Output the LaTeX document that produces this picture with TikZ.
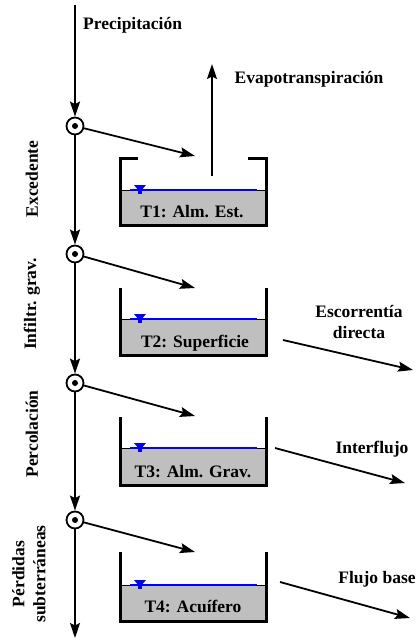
\documentclass[tikz,border=0pt]{standalone}
\usepackage{fontspec}
\setmainfont{Liberation Serif}
\usetikzlibrary{arrows.meta}

\begin{document}
\begin{tikzpicture}[x=1pt,y=-1pt,
  lbl/.style={font=\fontsize{17.5}{21}\selectfont\bfseries, inner sep=0pt, align=center},
  flow/.style={line width=1.8pt, -{Stealth[length=15pt,width=10pt,inset=2.5pt]}},
  junc/.style={circle, draw, line width=1.8pt, minimum size=17pt, inner sep=0pt, fill=white},
  wall/.style={line width=3pt, line join=miter},
  water/.style={blue, line width=2.6pt},
  soil/.style={fill=black!25},
]
\useasboundingbox (0,0) rectangle (417,640);

% main vertical flow line with its junctions
\coordinate (top) at (75,5);
\coordinate (bot) at (75,638);
\node[junc] (j1) at (75,126) {};
\node[junc] (j2) at (75,254) {};
\node[junc] (j3) at (75,383) {};
\node[junc] (j4) at (75,520) {};
\foreach \j in {j1,j2,j3,j4} \fill (\j) circle (3pt);

\draw[flow] (top) -- (j1.north);
\draw[flow] (j1.south) -- (j2.north);
\draw[flow] (j2.south) -- (j3.north);
\draw[flow] (j3.south) -- (j4.north);
\draw[flow] (j4.south) -- (bot);

% inflows into each tank
\coordinate (in1) at (195,156);
\coordinate (in2) at (195,288);
\coordinate (in3) at (195,416);
\coordinate (in4) at (195,552);
\draw[flow] (j1) -- (in1);
\draw[flow] (j2) -- (in2);
\draw[flow] (j3) -- (in3);
\draw[flow] (j4) -- (in4);

% tanks: top, water level, bottom
\foreach \t/\w/\b in {157/190/225, 288/319/355, 417/448/485, 552/585/621} {
  \fill[soil] (120,\w) rectangle (266,\b);
  \draw[line width=1pt] (120,\w) -- (266,\w);
  \draw[water] (130,\w) -- (257,\w);
  \fill[blue] (134,\w-5) -- (146,\w-5) -- (140,\w+2) -- cycle;
  \fill[blue] (138,\w) rectangle (142,\w+4);
  \draw[wall] (120,\t) -- (120,\b) -- (266,\b) -- (266,\t);
}
% lips of the first tank
\draw[wall] (120,158) -- (138,158);
\draw[wall] (248,158) -- (266,158);

\node[lbl, anchor=base] (t1) at (192,217) {T1: Alm. Est.};
\node[lbl, anchor=base] (t2) at (195,347) {T2: Superficie};
\node[lbl, anchor=base] (t3) at (193,477) {T3: Alm. Grav.};
\node[lbl, anchor=base] (t4) at (193,612) {T4: Acuífero};

% evapotranspiration
\coordinate (ev0) at (212,176);
\coordinate (ev1) at (212,64);
\draw[flow] (ev0) -- (ev1);

% outflows
\coordinate (o2a) at (283,340);
\coordinate (o2b) at (413,370);
\coordinate (o3a) at (275,448);
\coordinate (o3b) at (405,483);
\coordinate (o4a) at (280,582);
\coordinate (o4b) at (410,618);
\draw[flow] (o2a) -- (o2b);
\draw[flow] (o3a) -- (o3b);
\draw[flow] (o4a) -- (o4b);

% labels
\node[lbl, anchor=base west] (prec) at (83,29) {Precipitación};
\node[lbl, anchor=base] (evap) at (309,83) {Evapotranspiración};
\node[lbl] (esc) at (359,322) {Escorrentía\\directa};
\node[lbl, anchor=base] (intf) at (372,453) {Interflujo};
\node[lbl, anchor=base] (fb) at (377,583) {Flujo base};

\node[lbl, rotate=90] (exc) at (32,179) {Excedente};
\node[lbl, rotate=90] (inf) at (32,304) {Infiltr. grav.};
\node[lbl, rotate=90] (perc) at (32,434) {Percolación};
\node[lbl, rotate=90, align=center] (perd) at (29,574) {Pérdidas\\subterráneas};
\end{tikzpicture}
\end{document}
